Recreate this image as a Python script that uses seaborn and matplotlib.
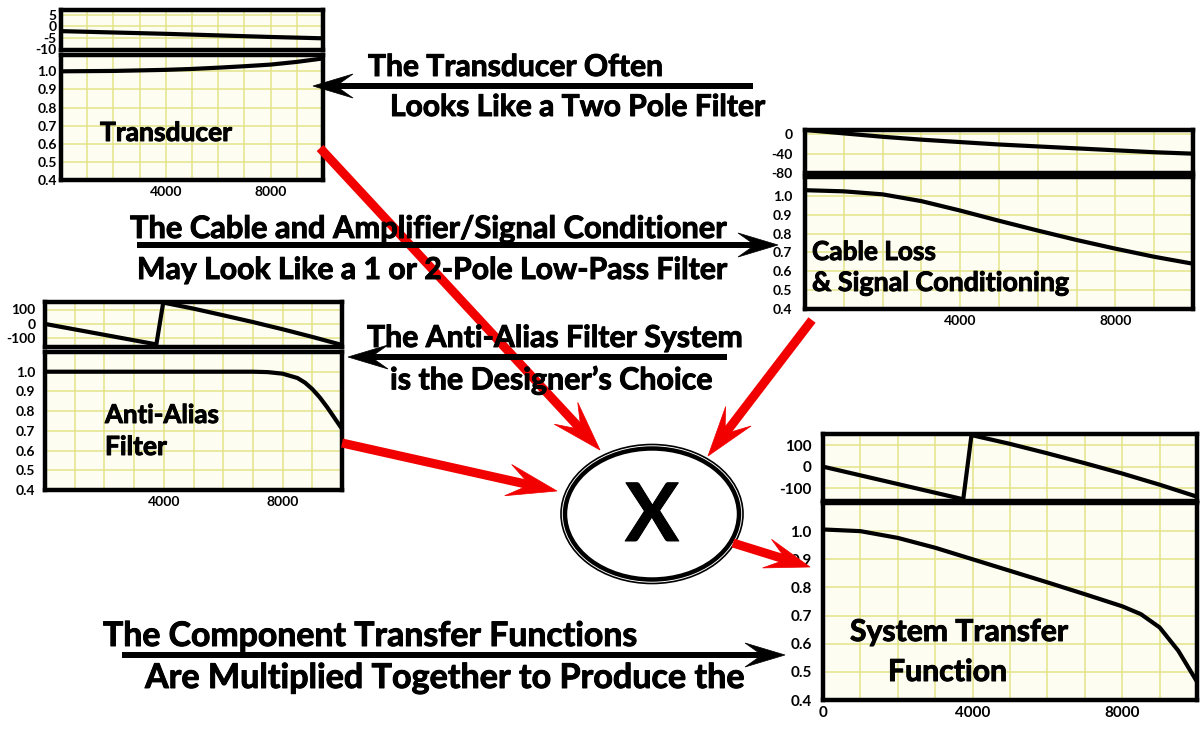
import numpy as np
import matplotlib.pyplot as plt
import matplotlib.patheffects as pe
import seaborn as sns
from matplotlib.patches import Polygon, Ellipse

# ---------------------------------------------------------------------------
# data (frequency in Hz)
freq_grid = [0, 1000, 2000, 3000, 4000, 5000, 6000, 7000, 8000, 9000, 10000]

# transducer
td_ph_f = [0, 2000, 4000, 6000, 8000, 10000]
td_phase = [-2.1, -2.7, -3.3, -4.0, -4.7, -5.3]
td_mag_f = [0, 2000, 4000, 5000, 6000, 7000, 8000, 9000, 10000]
td_mag = [1.0, 1.002, 1.008, 1.013, 1.02, 1.028, 1.037, 1.052, 1.071]

# cable loss & signal conditioning
cb_f = [0, 1000, 2000, 3000, 4000, 5000, 6000, 7000, 8000, 9000, 10000]
cb_phase = [9, 2, -5, -11, -16, -21, -25, -29, -33, -37, -40]
cb_mag = [1.03, 1.024, 1.008, 0.972, 0.922, 0.868, 0.816, 0.766, 0.72,
          0.677, 0.64]

# anti-alias filter
aa_ph_f = [0, 3750, 3980, 5000, 6000, 7000, 8000, 9000, 10000]
aa_phase = [0, -142, 148, 106, 60, 13, -37, -90, -146]
aa_mag_f = [0, 1000, 2000, 3000, 4000, 5000, 6000, 7000, 7500, 8000, 8500,
            8750, 9000, 9250, 9500, 9750, 10000]
aa_mag = [1.0, 1.0, 1.0, 1.0, 1.0, 1.0, 1.0, 1.0, 0.998, 0.99, 0.968,
          0.945, 0.912, 0.87, 0.82, 0.765, 0.71]

# system transfer function
sy_ph_f = [0, 2000, 3750, 3970, 5000, 6000, 7000, 8000, 9000, 10000]
sy_phase = [0, -81, -152, 147, 106, 62, 16, -32, -84, -140]
sy_mag_f = [0, 1000, 2000, 3000, 4000, 5000, 6000, 7000, 8000, 8500, 9000,
            9500, 10000]
sy_mag = [1.006, 1.0, 0.976, 0.941, 0.9, 0.859, 0.818, 0.776, 0.733, 0.705,
          0.658, 0.575, 0.465]

mag_ticks = [0.4, 0.5, 0.6, 0.7, 0.8, 0.9, 1.0]

# ---------------------------------------------------------------------------
sns.set_theme(style='white')
plt.rcParams['font.family'] = ['Lato', 'DejaVu Sans']
plt.rcParams['font.weight'] = 'bold'

W, H = 1200, 731
fig = plt.figure(figsize=(12, 7.31), dpi=100)
fig.patch.set_facecolor('white')

GRID = '#e3e38a'
FACE = '#fdfdf1'
BOLDER = [pe.withStroke(linewidth=0.7, foreground='black')]


def frame(x0, y0, x1, y1, size):
    '''axes placed by pixel box (top-left origin)'''
    ax = fig.add_axes([x0 / W, 1 - y1 / H, (x1 - x0) / W, (y1 - y0) / H])
    ax.set_facecolor(FACE)
    for s in ax.spines.values():
        s.set_visible(True)
        s.set_color('black')
        s.set_linewidth(3.2)
    ax.set_xlim(0, 10000)
    ax.set_xticks(freq_grid, minor=True)
    ax.grid(True, which='both', color=GRID, lw=1.1)
    ax.tick_params(which='both', length=0, labelsize=size, colors='black')
    ax.set_xlabel('')
    ax.set_ylabel('')
    return ax


def panel(ph_box, mag_box, fp, ph, ph_lim, ph_ticks, fm, mag, mag_lim,
          xticks, size=10, pad=7):
    ax1 = frame(*ph_box, size)
    sns.lineplot(x=fp, y=ph, ax=ax1, color='black', lw=3)
    ax1.set_ylim(*ph_lim)
    ax1.set_yticks(ph_ticks)
    ax1.set_yticklabels([str(t) for t in ph_ticks])
    ax1.set_xticks([])
    ax1.tick_params(axis='y', pad=pad)

    ax2 = frame(*mag_box, size)
    sns.lineplot(x=fm, y=mag, ax=ax2, color='black', lw=3)
    ax2.set_ylim(*mag_lim)
    ax2.set_yticks(mag_ticks)
    ax2.set_yticklabels(['%.1f' % t for t in mag_ticks])
    ax2.set_xticks(xticks)
    ax2.set_xticklabels([str(t) for t in xticks])
    ax2.tick_params(axis='y', pad=pad)
    ax2.tick_params(axis='x', pad=4)
    return ax1, ax2


panel((61, 10, 323, 50), (61, 55, 323, 180), td_ph_f, td_phase,
      (-10.5, 7.3), [5, 0, -5, -10], td_mag_f, td_mag, (0.4, 1.09),
      [4000, 8000], size=10, pad=3)
panel((805, 130, 1193, 173), (805, 177, 1193, 309), cb_f, cb_phase,
      (-80, 9), [0, -40, -80], cb_f, cb_mag, (0.4, 1.1),
      [4000, 8000], size=10, pad=9)
panel((45, 302, 342, 347), (45, 352, 342, 490), aa_ph_f, aa_phase,
      (-160, 152), [100, 0, -100], aa_mag_f, aa_mag, (0.4, 1.1),
      [4000, 8000], size=10, pad=7)
panel((823, 434, 1197, 501), (823, 503, 1197, 700), sy_ph_f, sy_phase,
      (-160, 152), [100, 0, -100], sy_mag_f, sy_mag, (0.4, 1.1),
      [0, 4000, 8000], size=11, pad=8)

# ---------------------------------------------------------------------------
# overlay in pixel coordinates for arrows, the multiplier and the captions
ov = fig.add_axes([0, 0, 1, 1])
ov.set_xlim(0, W)
ov.set_ylim(H, 0)
ov.axis('off')


def arrow(x0, y0, x1, y1, color, width, head_len, head_w, notch, z):
    d = np.array([x1 - x0, y1 - y0], dtype=float)
    u = d / np.hypot(*d)
    p = np.array([-u[1], u[0]])
    tip = np.array([x1, y1], dtype=float)
    back = tip - (head_len - notch) * u
    ov.plot([x0, back[0]], [y0, back[1]], color=color, lw=width * 0.72,
            solid_capstyle='butt', zorder=z)
    pts = [tip, tip - head_len * u + head_w * p, back,
           tip - head_len * u - head_w * p]
    ov.add_patch(Polygon(pts, closed=True, facecolor=color, edgecolor=color,
                         lw=0.5, zorder=z))


# multiplier
ov.add_patch(Ellipse((652, 514), 182, 139, facecolor='white',
                     edgecolor='black', lw=1.2, zorder=1))
ov.add_patch(Ellipse((652, 514), 174, 131, facecolor='white',
                     edgecolor='black', lw=3.2, zorder=1))
ov.text(652, 518, 'X', ha='center', va='center', fontsize=58,
        color='black', zorder=2, path_effects=BOLDER)

# red flow arrows
RED = '#f20000'
arrow(320, 148, 600, 450, RED, 9, 50, 16, 22, 2)
arrow(812, 320, 708, 456, RED, 9, 50, 16, 22, 2)
arrow(342, 443, 557, 491, RED, 9, 50, 16, 22, 2)
arrow(733, 543, 810, 567, RED, 9, 45, 15, 20, 2)

# black caption arrows
arrow(753, 86, 313, 86, 'black', 6, 40, 12, 17, 3)
arrow(137, 245, 778, 245, 'black', 6, 40, 12, 17, 3)
arrow(727, 357, 348, 357, 'black', 6, 40, 12, 17, 3)
arrow(122, 655, 785, 655, 'black', 6, 40, 12, 17, 3)

renderer = fig.canvas.get_renderer()


def caption(x0, x1, y, s, ha='left'):
    '''text sized to span x0..x1 pixels'''
    xs = x0 if ha == 'left' else (x0 + x1) / 2
    t = ov.text(xs, y, s, ha=ha, va='center', fontsize=20, color='black',
                zorder=4, path_effects=BOLDER)
    w = t.get_window_extent(renderer).width
    t.set_fontsize(20 * (x1 - x0) / w)
    return t


caption(368, 663, 67, 'The Transducer Often')
caption(390, 765, 107, 'Looks Like a Two Pole Filter')
caption(130, 727, 229, 'The Cable and Amplifier/Signal Conditioner')
caption(137, 727, 270, 'May Look Like a 1 or 2-Pole Low-Pass Filter')
caption(367, 743, 338, 'The Anti-Alias Filter System')
caption(390, 713, 380, 'is the Designer\u2019s Choice')
caption(103, 637, 636, 'The Component Transfer Functions')
caption(145, 745, 678, 'Are Multiplied Together to Produce the')

# panel names
caption(100, 232, 133, 'Transducer')
caption(812, 936, 252, 'Cable Loss')
caption(812, 1069, 283, '& Signal Conditioning')
caption(105, 219, 415, 'Anti-Alias')
caption(105, 167, 447, 'Filter')
caption(850, 1068, 632, 'System Transfer')
caption(888, 1007, 672, 'Function')

fig.savefig('out.png', dpi=100)
